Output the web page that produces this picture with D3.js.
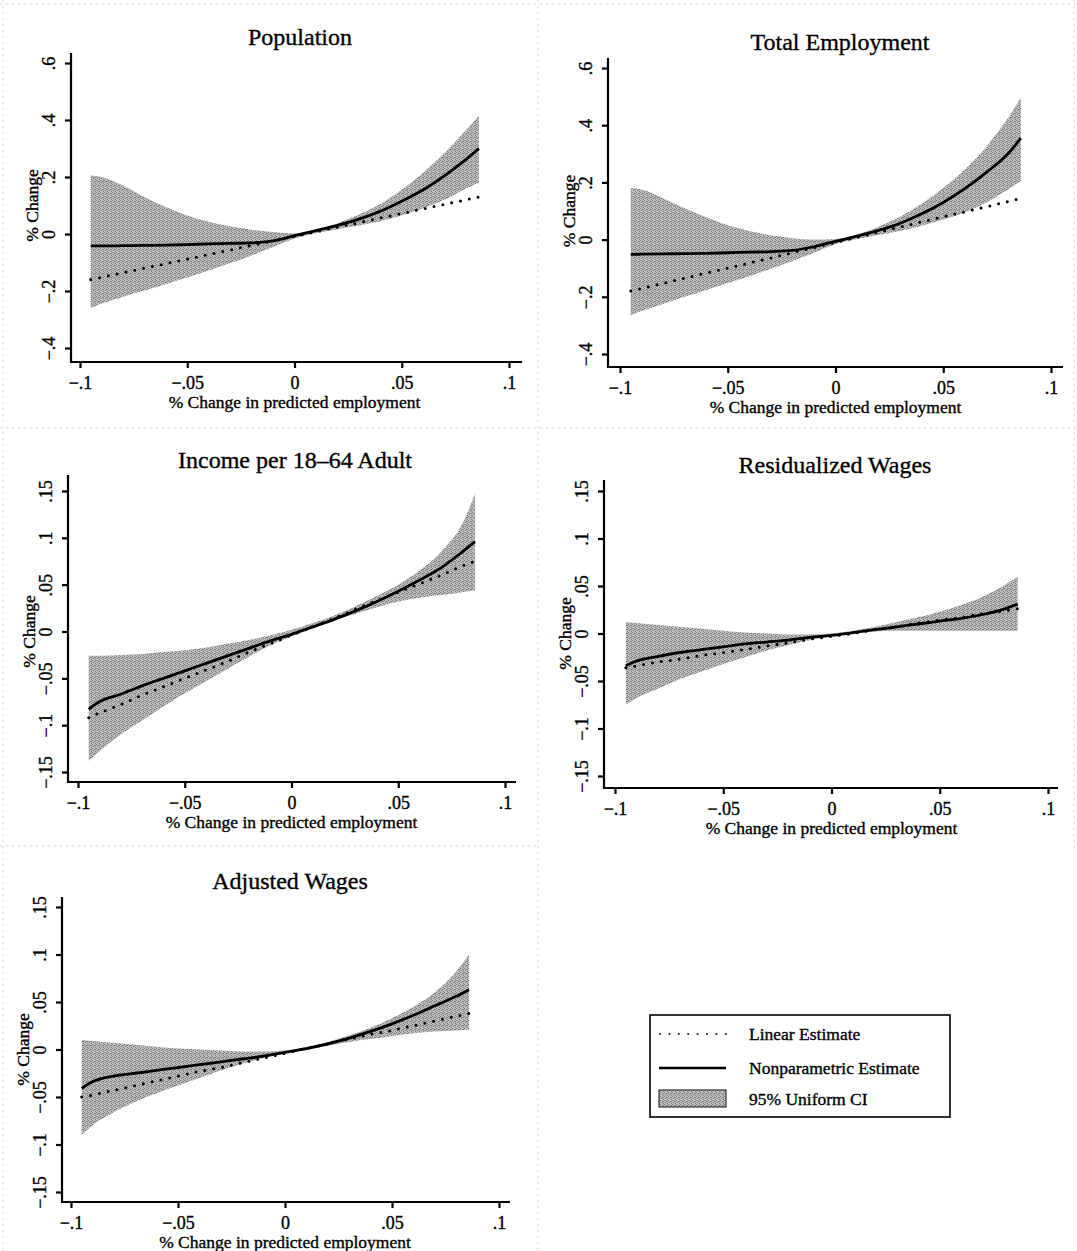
<!DOCTYPE html>
<html>
<head>
<meta charset="utf-8">
<script src="https://cdn.jsdelivr.net/npm/d3@7"></script>
<style>
body { margin: 0; background: #fff; }
svg { display: block; font-family: "Liberation Serif", "Times New Roman", serif; }
svg text { stroke: #000; stroke-width: 0.35px; fill: #000; }
</style>
</head>
<body>
<svg id="fig" width="1077" height="1251"></svg>
<script>
// x grid shared by every panel (% change in predicted employment)
const xGrid = [-0.095, -0.09, -0.08, -0.07, -0.06, -0.05, -0.04, -0.03, -0.02, -0.01, 0, 0.01, 0.02, 0.03, 0.04, 0.05, 0.06, 0.07, 0.08, 0.086];

// Population
const popLower  = [-0.260, -0.245, -0.220, -0.198, -0.176, -0.153, -0.128, -0.102, -0.075, -0.046, -0.016, 0.003, 0.017, 0.030, 0.045, 0.065, 0.090, 0.120, 0.160, 0.180];
const popUpper  = [0.205, 0.200, 0.170, 0.130, 0.095, 0.065, 0.043, 0.027, 0.015, 0.007, 0.002, 0.015, 0.038, 0.068, 0.105, 0.155, 0.215, 0.285, 0.365, 0.415];
const popNonpar = [-0.042, -0.042, -0.041, -0.040, -0.039, -0.037, -0.035, -0.033, -0.031, -0.024, -0.006, 0.012, 0.030, 0.052, 0.080, 0.115, 0.155, 0.205, 0.262, 0.300];
const popLinear = [-0.160, -0.152, -0.136, -0.120, -0.104, -0.088, -0.072, -0.056, -0.040, -0.024, -0.008, 0.008, 0.024, 0.040, 0.056, 0.072, 0.088, 0.104, 0.120, 0.130];

// Total Employment
const empLower  = [-0.265, -0.250, -0.225, -0.200, -0.176, -0.152, -0.128, -0.102, -0.075, -0.046, -0.016, 0.002, 0.016, 0.030, 0.048, 0.070, 0.095, 0.130, 0.175, 0.205];
const empUpper  = [0.180, 0.175, 0.145, 0.110, 0.078, 0.050, 0.030, 0.015, 0.005, 0.000, 0.002, 0.018, 0.045, 0.080, 0.125, 0.180, 0.245, 0.325, 0.425, 0.495];
const empNonpar = [-0.052, -0.051, -0.050, -0.049, -0.048, -0.046, -0.044, -0.042, -0.038, -0.025, -0.006, 0.012, 0.032, 0.057, 0.090, 0.130, 0.178, 0.235, 0.300, 0.355];
const empLinear = [-0.180, -0.171, -0.153, -0.135, -0.117, -0.100, -0.082, -0.064, -0.046, -0.028, -0.010, 0.008, 0.026, 0.044, 0.062, 0.080, 0.097, 0.115, 0.133, 0.144];

// Income per 18-64 Adult
const incLower  = [-0.138, -0.128, -0.110, -0.095, -0.080, -0.066, -0.053, -0.040, -0.027, -0.015, -0.005, 0.004, 0.012, 0.019, 0.026, 0.032, 0.036, 0.039, 0.042, 0.044];
const incUpper  = [-0.026, -0.026, -0.025, -0.024, -0.022, -0.020, -0.017, -0.013, -0.009, -0.004, 0.002, 0.009, 0.017, 0.027, 0.038, 0.050, 0.065, 0.085, 0.115, 0.147];
const incNonpar = [-0.083, -0.075, -0.067, -0.058, -0.050, -0.042, -0.034, -0.026, -0.018, -0.010, -0.003, 0.005, 0.013, 0.022, 0.032, 0.043, 0.055, 0.068, 0.085, 0.096];
const incLinear = [-0.092, -0.087, -0.078, -0.068, -0.059, -0.050, -0.041, -0.032, -0.022, -0.013, -0.004, 0.005, 0.014, 0.024, 0.033, 0.042, 0.051, 0.060, 0.070, 0.075];

// Residualized Wages
const resLower  = [-0.075, -0.068, -0.058, -0.048, -0.040, -0.032, -0.025, -0.018, -0.012, -0.007, -0.003, 0.000, 0.002, 0.003, 0.003, 0.003, 0.003, 0.003, 0.003, 0.003];
const resUpper  = [0.012, 0.011, 0.009, 0.007, 0.005, 0.003, 0.001, 0.000, -0.001, -0.001, 0.000, 0.003, 0.007, 0.012, 0.017, 0.023, 0.030, 0.039, 0.051, 0.060];
const resNonpar = [-0.034, -0.029, -0.024, -0.020, -0.017, -0.014, -0.011, -0.009, -0.007, -0.004, -0.002, 0.001, 0.004, 0.007, 0.010, 0.013, 0.016, 0.020, 0.026, 0.031];
const resLinear = [-0.036, -0.034, -0.030, -0.027, -0.023, -0.020, -0.017, -0.013, -0.010, -0.006, -0.003, 0.000, 0.004, 0.007, 0.011, 0.014, 0.017, 0.021, 0.024, 0.026];

// Adjusted Wages
const adjLower  = [-0.090, -0.080, -0.066, -0.055, -0.046, -0.038, -0.030, -0.022, -0.015, -0.009, -0.004, 0.000, 0.004, 0.008, 0.011, 0.014, 0.017, 0.019, 0.020, 0.021];
const adjUpper  = [0.010, 0.009, 0.007, 0.005, 0.003, 0.001, 0.000, -0.001, -0.002, -0.002, -0.001, 0.003, 0.008, 0.015, 0.023, 0.033, 0.045, 0.060, 0.082, 0.100];
const adjNonpar = [-0.041, -0.034, -0.028, -0.025, -0.022, -0.019, -0.016, -0.013, -0.010, -0.007, -0.003, 0.001, 0.006, 0.012, 0.019, 0.027, 0.036, 0.046, 0.056, 0.063];
const adjLinear = [-0.050, -0.048, -0.043, -0.038, -0.033, -0.028, -0.023, -0.019, -0.014, -0.009, -0.004, 0.001, 0.006, 0.011, 0.016, 0.020, 0.025, 0.030, 0.035, 0.038];

// tick values and labels
const xTicks = [-0.1, -0.05, 0, 0.05, 0.1];
const yTicksWide = [-0.4, -0.2, 0, 0.2, 0.4, 0.6];
const yTicksNarrow = [-0.15, -0.1, -0.05, 0, 0.05, 0.1, 0.15];
const legendLabels = ['Linear Estimate', 'Nonparametric Estimate', '95% Uniform CI'];

// Stata style labels: drop the leading zero, use a real minus sign
const fmt = v => v === 0 ? '0' : (v < 0 ? '\u2212' : '') + String(+Math.abs(v).toFixed(3)).replace(/^0/, '');

const svg = d3.select('#fig');

// grainy grey used for the confidence band
const pat = svg.append('defs').append('pattern')
    .attr('id', 'stipple')
    .attr('width', 4)
    .attr('height', 4)
    .attr('patternUnits', 'userSpaceOnUse');
pat.append('rect').attr('width', 4).attr('height', 4).attr('fill', '#bcbcbc');
[[0, 0], [2, 1], [1, 2], [3, 3], [3, 1]].forEach(c => {
    pat.append('rect')
        .attr('x', c[0]).attr('y', c[1])
        .attr('width', 1).attr('height', 1)
        .attr('fill', '#7c7c7c');
});

// faint scan borders between the panels
const scan = svg.append('g')
    .attr('stroke', '#d4d4d4')
    .attr('stroke-width', 1)
    .attr('stroke-dasharray', '2,4');
[[0, 4, 1077, 4], [0, 428, 1077, 428], [0, 846, 540, 846], [3, 0, 3, 1251], [538, 0, 538, 1251], [1074, 0, 1074, 850]]
    .forEach(l => scan.append('line').attr('x1', l[0]).attr('y1', l[1]).attr('x2', l[2]).attr('y2', l[3]));

const panels = [
    { title: 'Population', lower: popLower, upper: popUpper, nonpar: popNonpar, linear: popLinear, yTicks: yTicksWide,
      axisX: 71, x0: 80, x1: 509, yTop: 63, yBot: 348, axisY: 362, lineTop: 53, lineRight: 522, titleX: 300, titleY: 45 },
    { title: 'Total Employment', lower: empLower, upper: empUpper, nonpar: empNonpar, linear: empLinear, yTicks: yTicksWide,
      axisX: 608, x0: 620, x1: 1051, yTop: 68, yBot: 354, axisY: 367, lineTop: 58, lineRight: 1063, titleX: 840, titleY: 50 },
    { title: 'Income per 18\u201364 Adult', lower: incLower, upper: incUpper, nonpar: incNonpar, linear: incLinear, yTicks: yTicksNarrow,
      axisX: 68, x0: 78, x1: 505, yTop: 491, yBot: 772, axisY: 782, lineTop: 475, lineRight: 516, titleX: 295, titleY: 468 },
    { title: 'Residualized Wages', lower: resLower, upper: resUpper, nonpar: resNonpar, linear: resLinear, yTicks: yTicksNarrow,
      axisX: 604, x0: 615, x1: 1048, yTop: 491, yBot: 776, axisY: 788, lineTop: 480, lineRight: 1058, titleX: 835, titleY: 473 },
    { title: 'Adjusted Wages', lower: adjLower, upper: adjUpper, nonpar: adjNonpar, linear: adjLinear, yTicks: yTicksNarrow,
      axisX: 62, x0: 71, x1: 499, yTop: 907, yBot: 1192, axisY: 1202, lineTop: 897, lineRight: 510, titleX: 290, titleY: 889 }
];

panels.forEach(p => {
    const g = svg.append('g');
    const x = d3.scaleLinear().domain([-0.1, 0.1]).range([p.x0, p.x1]);
    const y = d3.scaleLinear().domain(d3.extent(p.yTicks)).range([p.yBot, p.yTop]);

    // confidence band
    const area = d3.area()
        .x((d, i) => x(xGrid[i]))
        .y0((d, i) => y(p.lower[i]))
        .y1((d, i) => y(p.upper[i]))
        .curve(d3.curveMonotoneX);
    g.append('path')
        .datum(xGrid)
        .attr('d', area)
        .attr('fill', 'url(#stipple)');

    // linear estimate, dotted
    const line = d3.line().x((d, i) => x(xGrid[i])).y(d => y(d));
    g.append('path')
        .datum(p.linear)
        .attr('d', line)
        .attr('fill', 'none')
        .attr('stroke', '#000')
        .attr('stroke-width', 3)
        .attr('stroke-linecap', 'round')
        .attr('stroke-dasharray', '0,9');

    // nonparametric estimate, solid
    g.append('path')
        .datum(p.nonpar)
        .attr('d', line.curve(d3.curveMonotoneX))
        .attr('fill', 'none')
        .attr('stroke', '#000')
        .attr('stroke-width', 2.8);

    // axis lines
    g.append('line')
        .attr('x1', p.axisX).attr('y1', p.lineTop)
        .attr('x2', p.axisX).attr('y2', p.axisY)
        .attr('stroke', '#000').attr('stroke-width', 2.2);
    g.append('line')
        .attr('x1', p.axisX - 1).attr('y1', p.axisY)
        .attr('x2', p.lineRight).attr('y2', p.axisY)
        .attr('stroke', '#000').attr('stroke-width', 2.2);

    // y axis ticks, labels rotated as in Stata
    const yAxis = g.append('g')
        .attr('transform', `translate(${p.axisX},0)`)
        .call(d3.axisLeft(y).tickValues(p.yTicks).tickFormat(fmt).tickSize(6));
    yAxis.select('.domain').remove();
    yAxis.selectAll('line').attr('stroke', '#000').attr('stroke-width', 2.2);
    yAxis.selectAll('text')
        .attr('x', 0)
        .attr('y', -16)
        .attr('dy', 0)
        .attr('transform', 'rotate(-90)')
        .attr('text-anchor', 'middle')
        .attr('fill', '#000')
        .style('font-family', '"Liberation Serif", serif')
        .style('font-size', '18px');

    // x axis ticks
    const xAxis = g.append('g')
        .attr('transform', `translate(0,${p.axisY})`)
        .call(d3.axisBottom(x).tickValues(xTicks).tickFormat(fmt).tickSize(6));
    xAxis.select('.domain').remove();
    xAxis.selectAll('line').attr('stroke', '#000').attr('stroke-width', 2.2);
    xAxis.selectAll('text')
        .attr('y', 14)
        .attr('fill', '#000')
        .style('font-family', '"Liberation Serif", serif')
        .style('font-size', '18px');

    // titles
    g.append('text')
        .attr('x', p.titleX)
        .attr('y', p.titleY)
        .attr('text-anchor', 'middle')
        .style('font-size', '24px')
        .text(p.title);
    g.append('text')
        .attr('x', (p.x0 + p.x1) / 2)
        .attr('y', p.axisY + 46)
        .attr('text-anchor', 'middle')
        .style('font-size', '17.5px')
        .text('% Change in predicted employment');
    g.append('text')
        .attr('transform', `translate(${p.axisX - 33},${(p.yTop + p.yBot) / 2}) rotate(-90)`)
        .attr('text-anchor', 'middle')
        .style('font-size', '17.5px')
        .text('% Change');
});

// legend
const leg = svg.append('g');
leg.append('rect')
    .attr('x', 650).attr('y', 1015)
    .attr('width', 300).attr('height', 102)
    .attr('fill', '#fff')
    .attr('stroke', '#000')
    .attr('stroke-width', 1.6);
const rowY = [1034, 1068, 1099];
leg.append('line')
    .attr('x1', 660).attr('y1', rowY[0]).attr('x2', 726).attr('y2', rowY[0])
    .attr('stroke', '#222').attr('stroke-width', 2.2)
    .attr('stroke-linecap', 'round').attr('stroke-dasharray', '0,9.4');
leg.append('line')
    .attr('x1', 659).attr('y1', rowY[1]).attr('x2', 726).attr('y2', rowY[1])
    .attr('stroke', '#000').attr('stroke-width', 2.6);
leg.append('rect')
    .attr('x', 659).attr('y', 1090)
    .attr('width', 67).attr('height', 17)
    .attr('fill', 'url(#stipple)')
    .attr('stroke', '#333')
    .attr('stroke-width', 1.2);
leg.selectAll('text.leg')
    .data(legendLabels)
    .enter().append('text')
    .attr('class', 'leg')
    .attr('x', 749)
    .attr('y', (d, i) => rowY[i] + 6)
    .style('font-size', '17.5px')
    .text(d => d);
</script>
</body>
</html>
